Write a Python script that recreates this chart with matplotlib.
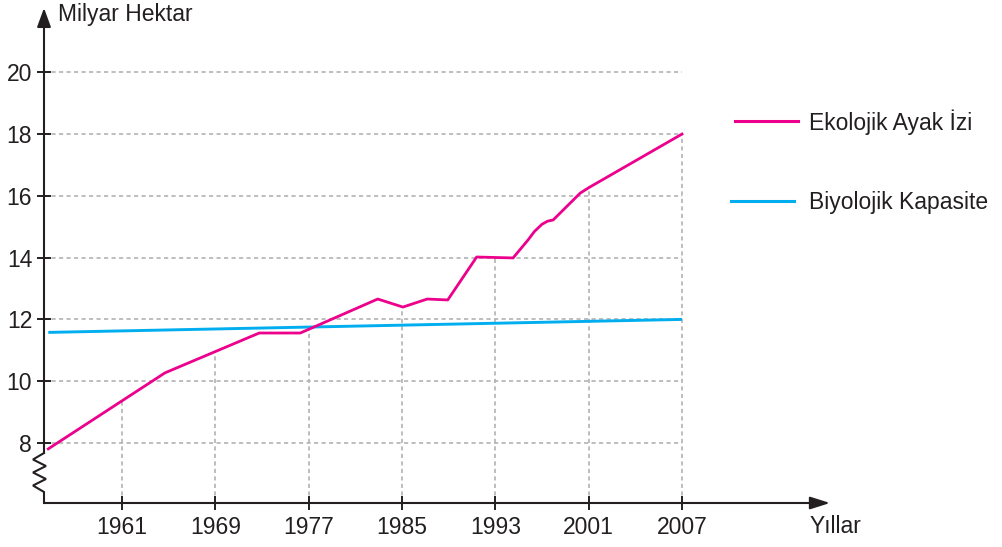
import numpy as np
import matplotlib
matplotlib.use("Agg")
import matplotlib.pyplot as plt
from matplotlib.lines import Line2D
from matplotlib.transforms import blended_transform_factory

plt.rcParams['font.family'] = ['Liberation Sans', 'DejaVu Sans']

INK = "#231f20"
PINK = "#ec008c"
BLUE = "#00aeef"
GRID = "#b3b3b3"

# year axis is categorical: ticks are evenly spaced regardless of the gap
years = ["1961", "1969", "1977", "1985", "1993", "2001", "2007"]
year_pos = np.arange(len(years))

# ecological footprint (billion ha), x in category units of the year axis
foot_x = [-0.79, 0.46, 1.47, 1.91, 2.74, 3.01, 3.27, 3.49, 3.80, 4.19,
          4.35, 4.42, 4.50, 4.56, 4.62, 4.91, 5.01, 6.00]
foot_y = [7.81, 10.27, 11.56, 11.56, 12.66, 12.40, 12.66, 12.63, 14.02, 13.99,
          14.57, 14.85, 15.08, 15.18, 15.22, 16.09, 16.28, 18.0]

# biocapacity (billion ha)
bio_x = [-0.79, 6.00]
bio_y = [11.58, 12.0]

y_ticks = [8, 10, 12, 14, 16, 18, 20]

W, H = 1002, 547
fig = plt.figure(figsize=(W / 100, H / 100), dpi=100)
ax = fig.add_axes([44 / W, 44 / H, (830 - 44) / W, (539 - 44) / H])
x0, x1 = -0.836, 7.586
y0, y1 = 6.058, 22.08
ax.set_xlim(x0, x1)
ax.set_ylim(y0, y1)
for s in ax.spines.values():
    s.set_visible(False)

# dashed guides: horizontals out to the last year, verticals up to the footprint
ax.hlines(y_ticks, x0, year_pos[-1], colors=GRID, lw=1.2,
          linestyles=(0, (2.5, 2)), zorder=1)
ax.vlines(year_pos, y0, np.interp(year_pos, foot_x, foot_y), colors=GRID,
          lw=1.2, linestyles=(0, (2.5, 2)), zorder=1)

ax.plot(bio_x, bio_y, color=BLUE, lw=2.1, solid_capstyle="butt", zorder=3)
ax.plot(foot_x, foot_y, color=PINK, lw=2.0, solid_joinstyle="round", zorder=4)

ax.set_xticks(year_pos, years)
ax.set_yticks(y_ticks, [str(v) for v in y_ticks])
ax.tick_params(axis="both", direction="inout", length=10, width=1.4,
               color=INK, labelcolor=INK, labelsize=16.5)
ax.tick_params(axis="y", pad=3.5)
ax.tick_params(axis="x", pad=4)

# y axis with a zigzag break near the bottom
bt = blended_transform_factory(ax.transAxes, ax.transData)
zig_x = [0, 0, -0.014, 0.0025, -0.014, 0.0025, -0.014, 0]
zig_y = [y0, 6.414, 6.624, 6.835, 7.045, 7.255, 7.466, 7.676]
ax.plot(zig_x, zig_y, color=INK, lw=1.5, transform=bt, clip_on=False,
        solid_joinstyle="miter", zorder=5)
y_break_top = (7.676 - y0) / (y1 - y0)
ax.annotate("", xy=(0, 1), xytext=(0, y_break_top), xycoords="axes fraction",
            arrowprops=dict(arrowstyle="-|>,head_length=11.5,head_width=4.2",
                            mutation_scale=1, color=INK, lw=1.5,
                            shrinkA=0, shrinkB=0), annotation_clip=False)
ax.annotate("", xy=(1, 0), xytext=(0, 0), xycoords="axes fraction",
            arrowprops=dict(arrowstyle="-|>,head_length=12,head_width=3.8",
                            mutation_scale=1, color=INK, lw=1.5,
                            shrinkA=0, shrinkB=0), annotation_clip=False)

fig.text(58 / W, 1 - 21 / H, "Milyar Hektar", fontsize=16.5, color=INK,
         ha="left", va="baseline")
fig.text(810 / W, 1 - 533 / H, "Yıllar", fontsize=16.5, color=INK,
         ha="left", va="baseline")

# legend drawn by hand to the right of the plot
fig.add_artist(Line2D([735 / W, 798 / W], [1 - 121 / H, 1 - 121 / H],
                      color=PINK, lw=2.2, transform=fig.transFigure))
fig.add_artist(Line2D([731 / W, 794 / W], [1 - 201 / H, 1 - 201 / H],
                      color=BLUE, lw=2.2, transform=fig.transFigure))
fig.text(809 / W, 1 - 130 / H, "Ekolojik Ayak İzi", fontsize=16.5, color=INK,
         ha="left", va="baseline")
fig.text(809 / W, 1 - 209 / H, "Biyolojik Kapasite", fontsize=16.5, color=INK,
         ha="left", va="baseline")

fig.savefig("out.png", dpi=100)
